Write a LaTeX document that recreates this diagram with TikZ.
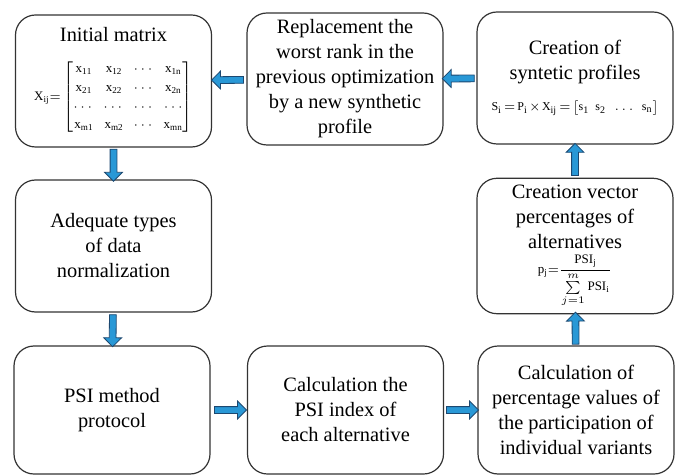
\documentclass[tikz,border=0pt]{standalone}
\usepackage{amsmath}
\usepackage{fontspec}
\setmainfont{Liberation Serif}
\usepackage{tikz}
\usetikzlibrary{shapes.arrows}

\definecolor{arrowblue}{RGB}{41,152,214}
\definecolor{arrowedge}{RGB}{28,72,112}
\tikzset{
  stage/.style={draw=black!80, line width=0.6pt, rounded corners=10pt,
    minimum width=98pt, minimum height=66pt, align=center,
    font=\fontsize{10.2}{12.5}\selectfont},
  blkarrow/.style={single arrow, sloped, allow upside down, draw=arrowedge,
    fill=arrowblue, line width=0.4pt, minimum height=16pt, inner sep=1.5pt,
    single arrow head extend=2.75pt}
}

\begin{document}
\begin{tikzpicture}[x=0.5pt,y=-0.5pt]
\useasboundingbox (0,0) rectangle (678,475);

% top row
\node[stage] (init) at (113.5,81) {Initial matrix\\[8pt]
  {\fontsize{6.5}{9.3}\selectfont\arraycolsep=2.2pt
  $\mathrm{X_{ij}}{=}\begin{bmatrix}
    \mathrm{x_{11}} & \mathrm{x_{12}} & \cdots & \mathrm{x_{1n}}\\
    \mathrm{x_{21}} & \mathrm{x_{22}} & \cdots & \mathrm{x_{2n}}\\
    \cdots & \cdots & \cdots & \cdots\\
    \mathrm{x_{m1}} & \mathrm{x_{m2}} & \cdots & \mathrm{x_{mn}}
  \end{bmatrix}$}};
\node[stage] (repl) at (345,79) {Replacement the\\ worst rank in the\\ previous optimization\\ by a new synthetic\\ profile};
\node[stage] (synt) at (575,78) {Creation of\\ syntetic profiles\\[3pt]
  {\fontsize{6}{8}\selectfont\thickmuskip=2.5mu\medmuskip=1.5mu
  $\mathrm{S_i = P_i\times X_{ij} =\bigl[s_1\enspace s_2\enspace \ldots\enspace s_n\bigr]}$}};

% middle row
\node[stage] (adeq) at (113.5,246) {Adequate types\\ of data\\ normalization};
\node[stage] (vect) at (575,246) {Creation vector\\ percentages of\\ alternatives\\
  {\fontsize{6.5}{8}\selectfont
  $\mathrm{p_j{=}}\dfrac{\mathrm{PSI_j}}{\sum\limits_{j=1}^{m}\mathrm{PSI_i}}$}};

% bottom row
\node[stage, minimum height=64pt] (psi) at (112,410) {PSI method\\ protocol};
\node[stage, minimum height=64pt] (calc) at (345.5,410) {Calculation the\\ PSI index of\\ each alternative};
\node[stage, minimum height=64pt] (perc) at (576,410) {Calculation of\\ percentage values of\\ the participation of\\ individual variants};

% block arrows
\path (init) -- node[blkarrow] {} (adeq);
\path (adeq) -- node[blkarrow] {} (psi);
\path (psi) -- node[blkarrow] {} (calc);
\path (calc) -- node[blkarrow] {} (perc);
\path (perc) -- node[blkarrow] {} (vect);
\path (vect) -- node[blkarrow] {} (synt);
\path (synt) -- node[blkarrow] {} (repl);
\path (repl) -- node[blkarrow] {} (init);

\end{tikzpicture}
\end{document}
